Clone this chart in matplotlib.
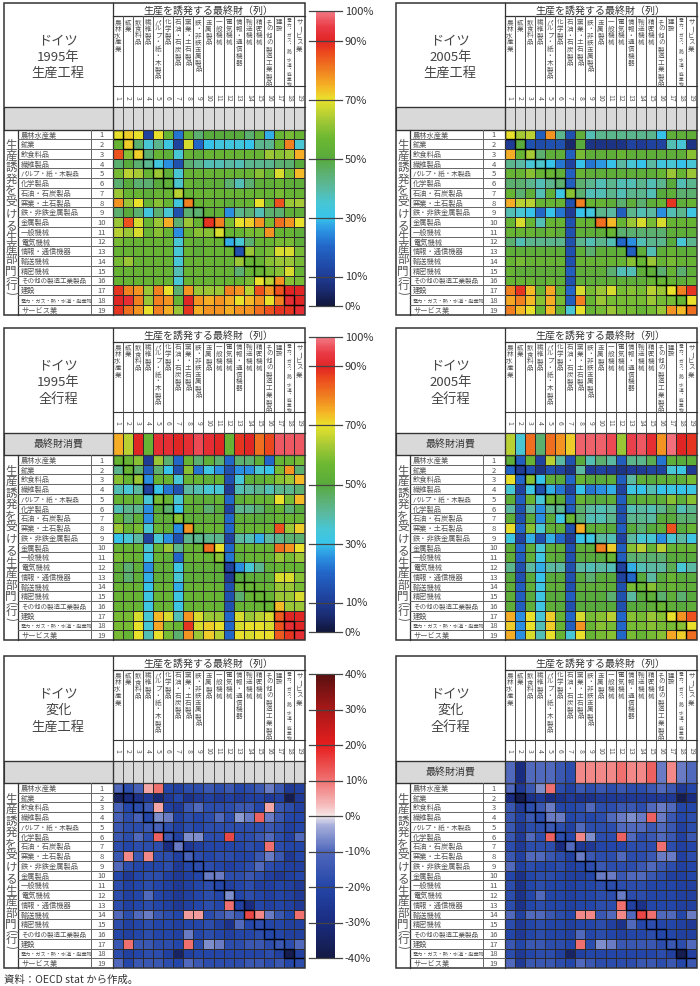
import numpy as np
import matplotlib.pyplot as plt
from matplotlib.colors import LinearSegmentedColormap, ListedColormap, Normalize
from matplotlib.cm import ScalarMappable
from matplotlib.patches import Rectangle

plt.rcParams['font.family'] = ['Noto Sans CJK JP', 'DejaVu Sans']

# ---- labels ----
sectors = ["農林水産業", "鉱業", "飲食料品", "繊維製品", "パルプ・紙・木製品", "化学製品",
           "石油・石炭製品", "窯業・土石製品", "鉄・非鉄金属製品", "金属製品", "一般機械",
           "電気機械", "情報・通信機器", "輸送機械", "精密機械", "その他の製造工業製品",
           "建設", "電力・ガス・熱・水道・廃棄物", "サービス業"]
codes = [str(i) for i in range(1, 20)]
col_header = "生産を誘発する最終財（列）"
row_header = "生産誘発を受ける生産部門"
row_header_tail = "(行)"
final_label = "最終財消費"
titles = [["ドイツ", "1995年", "生産工程"], ["ドイツ", "2005年", "生産工程"],
          ["ドイツ", "1995年", "全行程"], ["ドイツ", "2005年", "全行程"],
          ["ドイツ", "変化", "生産工程"], ["ドイツ", "変化", "全行程"]]
level_ticks = [0, 10, 30, 50, 70, 90, 100]
change_ticks = [-40, -30, -20, -10, 0, 10, 20, 30, 40]
source = "資料：OECD stat から作成。"

# ---- data (%) ----
p95_prod = [
    [70, 72, 70, 12, 70, 55, 22, 55, 45, 50, 50, 50, 50, 45, 52, 28, 55, 58, 55],
    [55, 72, 45, 35, 42, 32, 12, 68, 20, 30, 33, 33, 33, 30, 42, 42, 55, 80, 35],
    [85, 60, 72, 45, 55, 52, 35, 55, 52, 55, 55, 55, 55, 55, 55, 62, 60, 62, 75],
    [45, 50, 45, 42, 33, 25, 15, 45, 42, 38, 38, 40, 38, 42, 42, 42, 45, 45, 50],
    [58, 65, 63, 55, 62, 52, 35, 55, 55, 55, 55, 55, 55, 55, 60, 55, 68, 58, 74],
    [45, 50, 45, 45, 50, 52, 36, 55, 52, 52, 52, 45, 38, 45, 52, 52, 55, 52, 52],
    [62, 55, 55, 52, 55, 55, 65, 55, 55, 55, 55, 55, 55, 55, 55, 55, 58, 55, 55],
    [78, 62, 70, 55, 60, 55, 33, 80, 55, 55, 55, 52, 55, 55, 70, 55, 85, 62, 63],
    [45, 50, 45, 33, 45, 35, 15, 45, 45, 52, 52, 25, 42, 45, 38, 45, 45, 52, 52],
    [62, 85, 68, 55, 62, 75, 45, 62, 55, 88, 80, 58, 70, 72, 78, 58, 82, 78, 70],
    [65, 62, 68, 55, 60, 55, 25, 55, 60, 60, 68, 55, 55, 58, 58, 78, 55, 55, 52],
    [58, 55, 55, 55, 55, 55, 35, 55, 52, 55, 55, 28, 35, 45, 55, 55, 58, 58, 52],
    [55, 55, 55, 55, 55, 55, 35, 55, 52, 55, 55, 55, 15, 62, 55, 58, 68, 68, 58],
    [58, 62, 55, 55, 55, 55, 35, 55, 55, 55, 55, 55, 62, 55, 55, 60, 62, 62, 58],
    [55, 55, 55, 55, 55, 55, 38, 55, 55, 55, 55, 55, 45, 55, 55, 58, 60, 68, 55],
    [55, 55, 55, 55, 55, 55, 35, 55, 55, 55, 55, 55, 55, 58, 70, 65, 78, 60, 58],
    [88, 80, 78, 62, 80, 70, 45, 78, 62, 62, 62, 80, 78, 65, 85, 78, 85, 90, 90],
    [90, 92, 80, 62, 80, 78, 55, 90, 78, 75, 78, 75, 70, 74, 78, 70, 80, 92, 90],
    [88, 82, 78, 70, 80, 75, 62, 88, 75, 78, 78, 75, 78, 78, 82, 85, 88, 88, 92],
]
p05_prod = [
    [70, 63, 65, 18, 78, 42, 15, 52, 38, 42, 42, 42, 42, 42, 42, 30, 52, 52, 52],
    [10, 50, 15, 14, 15, 15, 5, 50, 8, 8, 8, 8, 12, 10, 12, 12, 38, 35, 8],
    [75, 55, 63, 45, 52, 52, 18, 58, 52, 52, 52, 55, 52, 52, 52, 52, 52, 52, 60],
    [42, 40, 35, 36, 30, 22, 12, 30, 22, 26, 30, 40, 35, 30, 40, 33, 35, 30, 35],
    [55, 55, 60, 55, 55, 52, 18, 55, 52, 52, 52, 52, 52, 52, 52, 55, 62, 55, 62],
    [45, 45, 42, 38, 42, 45, 18, 45, 42, 38, 42, 38, 38, 42, 38, 42, 50, 38, 42],
    [55, 45, 52, 38, 52, 32, 60, 45, 38, 38, 42, 38, 42, 42, 38, 50, 52, 45, 45],
    [75, 65, 65, 55, 55, 55, 15, 80, 55, 55, 52, 45, 52, 45, 52, 55, 88, 52, 55],
    [38, 35, 30, 20, 30, 22, 10, 30, 33, 42, 40, 18, 42, 38, 40, 25, 38, 42, 32],
    [55, 68, 55, 38, 55, 55, 15, 55, 55, 82, 74, 55, 62, 68, 58, 68, 55, 55, 55],
    [55, 55, 55, 52, 55, 52, 15, 52, 52, 52, 55, 45, 45, 45, 45, 45, 52, 52, 52],
    [45, 38, 42, 42, 42, 42, 15, 42, 38, 42, 38, 20, 25, 38, 42, 42, 50, 35, 42],
    [52, 52, 52, 52, 52, 52, 15, 52, 45, 52, 52, 52, 18, 52, 38, 52, 55, 52, 52],
    [55, 58, 55, 55, 55, 55, 15, 55, 55, 55, 55, 55, 60, 55, 62, 55, 58, 55, 55],
    [55, 52, 52, 52, 52, 52, 18, 52, 52, 52, 45, 38, 38, 52, 52, 45, 55, 45, 52],
    [55, 55, 55, 52, 55, 52, 15, 52, 52, 52, 52, 52, 52, 52, 55, 55, 55, 52, 55],
    [80, 88, 74, 55, 76, 55, 20, 68, 58, 62, 68, 58, 60, 58, 65, 62, 70, 80, 88],
    [76, 80, 74, 60, 75, 58, 18, 80, 55, 62, 58, 58, 58, 58, 62, 58, 58, 55, 70],
    [80, 74, 70, 55, 74, 55, 35, 70, 55, 58, 62, 58, 58, 55, 58, 62, 78, 74, 82],
]
fin95 = [75, 65, 90, 55, 92, 92, 90, 92, 96, 92, 90, 55, 88, 90, 82, 86, 97, 97, 97]
p95_all = [
    [55, 55, 60, 10, 62, 45, 20, 55, 45, 52, 45, 20, 45, 45, 52, 20, 55, 55, 58],
    [42, 55, 45, 18, 45, 30, 15, 60, 22, 32, 25, 15, 25, 25, 35, 30, 58, 78, 45],
    [60, 55, 62, 25, 55, 55, 35, 55, 55, 52, 55, 15, 35, 52, 52, 55, 60, 62, 74],
    [38, 35, 40, 12, 30, 22, 15, 40, 38, 35, 35, 10, 38, 40, 42, 38, 42, 42, 45],
    [55, 55, 55, 35, 58, 55, 35, 55, 52, 52, 55, 20, 52, 55, 55, 55, 70, 58, 74],
    [38, 42, 42, 25, 50, 45, 30, 52, 52, 45, 50, 12, 42, 42, 45, 50, 55, 45, 50],
    [55, 45, 52, 25, 52, 52, 60, 52, 52, 52, 52, 20, 52, 52, 50, 52, 55, 55, 55],
    [62, 55, 58, 35, 55, 52, 25, 78, 55, 55, 55, 20, 55, 55, 55, 55, 85, 62, 72],
    [30, 35, 40, 12, 35, 25, 15, 42, 42, 42, 42, 12, 40, 38, 28, 40, 42, 45, 45],
    [55, 55, 55, 35, 55, 62, 42, 55, 55, 82, 70, 20, 55, 55, 55, 55, 82, 78, 70],
    [58, 55, 55, 32, 55, 52, 20, 55, 55, 55, 60, 22, 52, 55, 55, 55, 62, 58, 62],
    [52, 45, 52, 25, 52, 52, 32, 52, 52, 52, 52, 12, 25, 35, 42, 52, 55, 55, 55],
    [52, 45, 52, 28, 52, 52, 35, 52, 52, 52, 52, 10, 50, 52, 52, 52, 68, 68, 60],
    [55, 55, 55, 30, 55, 55, 28, 55, 55, 55, 55, 15, 55, 55, 55, 55, 62, 62, 58],
    [55, 55, 55, 32, 55, 55, 32, 55, 55, 55, 55, 15, 45, 55, 55, 55, 62, 62, 68],
    [55, 55, 55, 32, 55, 55, 32, 55, 55, 55, 55, 15, 55, 55, 55, 55, 74, 62, 62],
    [58, 58, 68, 35, 74, 68, 38, 78, 68, 62, 62, 20, 68, 62, 65, 68, 84, 90, 90],
    [58, 58, 70, 35, 76, 58, 55, 88, 68, 72, 70, 20, 68, 70, 70, 68, 85, 92, 90],
    [58, 55, 70, 38, 70, 58, 45, 78, 62, 72, 65, 20, 70, 68, 70, 70, 84, 88, 92],
]
fin05 = [65, 35, 82, 45, 82, 78, 72, 98, 98, 98, 96, 62, 95, 97, 92, 78, 99, 90, 88]
p05_all = [
    [52, 18, 55, 12, 65, 40, 15, 50, 38, 45, 40, 18, 42, 42, 48, 22, 52, 50, 52],
    [20, 10, 15, 8, 15, 12, 8, 40, 10, 12, 10, 8, 10, 10, 12, 12, 35, 32, 10],
    [70, 20, 60, 30, 52, 50, 20, 55, 50, 50, 52, 18, 40, 52, 50, 52, 52, 52, 58],
    [35, 12, 32, 15, 28, 22, 12, 30, 22, 25, 28, 12, 32, 30, 38, 30, 32, 30, 32],
    [52, 18, 55, 35, 55, 50, 18, 55, 50, 50, 52, 18, 50, 52, 52, 52, 60, 52, 60],
    [40, 15, 40, 25, 42, 42, 18, 45, 40, 38, 40, 15, 38, 40, 38, 42, 48, 38, 42],
    [52, 15, 50, 25, 50, 32, 55, 45, 38, 38, 42, 15, 42, 42, 40, 50, 50, 45, 45],
    [70, 20, 60, 35, 52, 52, 15, 75, 52, 52, 50, 18, 50, 45, 50, 52, 85, 50, 55],
    [32, 12, 28, 15, 28, 20, 10, 30, 32, 40, 38, 12, 40, 35, 35, 25, 35, 40, 32],
    [52, 20, 52, 35, 52, 52, 15, 52, 52, 80, 72, 18, 60, 65, 55, 65, 55, 55, 55],
    [52, 18, 52, 32, 52, 50, 15, 50, 50, 50, 55, 18, 45, 45, 45, 45, 50, 50, 50],
    [42, 15, 40, 28, 40, 40, 15, 40, 38, 40, 38, 12, 28, 38, 40, 40, 48, 35, 40],
    [50, 15, 50, 30, 50, 50, 15, 50, 45, 50, 50, 12, 20, 50, 40, 50, 55, 50, 50],
    [52, 18, 52, 32, 52, 52, 15, 52, 52, 52, 52, 15, 58, 55, 60, 52, 55, 52, 52],
    [52, 18, 50, 32, 50, 50, 18, 50, 50, 50, 45, 15, 40, 50, 52, 45, 52, 45, 50],
    [52, 18, 52, 32, 52, 50, 15, 50, 50, 50, 50, 15, 50, 50, 52, 55, 52, 50, 52],
    [75, 25, 70, 35, 72, 55, 20, 68, 58, 60, 65, 20, 60, 58, 62, 60, 70, 78, 85],
    [72, 25, 70, 38, 72, 55, 18, 78, 55, 60, 58, 20, 58, 58, 60, 58, 58, 60, 70],
    [75, 25, 68, 38, 70, 55, 35, 70, 55, 58, 60, 20, 58, 55, 58, 60, 76, 72, 82],
]
chg_prod = [
    [-10, -18, -12, 5, 10, -20, -22, -18, -18, -15, -18, -15, -20, -18, -15, -8, -15, -25, -22],
    [-35, -30, -28, -25, -32, -25, -20, -28, -25, -22, -25, -22, -25, -22, -22, -25, -22, -38, -25],
    [-12, -20, -18, -15, 5, -22, -25, -15, -10, -18, -18, -18, -15, -15, -20, 5, -15, -18, -22],
    [-12, -18, -12, -20, -6, -8, -22, -18, -20, -18, -10, -18, -5, -8, 12, -8, -15, -20, -20],
    [-15, -18, -18, -15, -12, -18, -22, -18, -20, -18, -18, -18, -18, -18, -18, -15, -18, -22, -20],
    [-15, -18, -10, -18, 12, -15, -22, -6, -6, -18, -18, 15, -18, -18, -15, -10, -18, -22, -10],
    [-18, -20, -18, -18, -18, -30, -8, -25, -22, -20, -20, -20, -20, -18, -20, 10, -18, -20, -20],
    [-15, 8, -15, 8, -18, -18, -22, -12, -18, -20, -18, -18, -20, -20, -15, -8, -15, -25, -20],
    [-10, -18, -20, -20, -20, -18, -25, -20, -18, -18, -20, -22, -20, -18, -10, -18, -20, -22, -22],
    [-20, -25, -20, -18, -18, -22, -25, -22, -20, -8, -8, -18, -18, -15, -18, -22, -25, -22, -20],
    [-18, -22, -20, -18, -20, -22, -25, -22, -20, -18, -20, -22, -20, -18, -22, -22, -20, -22, -25],
    [-18, -22, -20, -10, -20, -22, -25, -22, -20, -18, -20, -6, -20, -18, -20, -22, -20, -22, -25],
    [-18, -22, -20, -18, -20, -22, -25, -22, -20, -18, -20, 10, -22, -30, -20, -22, -20, -22, -25],
    [-10, -18, -10, -8, -15, -18, -20, 6, 6, -18, -15, -10, -15, 15, 8, -8, -15, -20, 10],
    [-18, -22, -20, -18, -20, -20, -22, -20, -20, -18, -22, -28, -10, -20, -18, -20, -20, -22, -22],
    [-20, -22, -20, -18, -20, -20, -22, -8, -20, -18, -20, -22, -20, -20, -18, -20, -20, -22, -22],
    [-15, 10, -15, -15, -18, -18, -20, 10, -18, -6, -8, -18, -18, -15, -15, -18, -15, -18, -10],
    [-18, -22, -20, -18, -18, -22, -35, -22, -20, -20, -20, -20, -20, -20, -20, -18, -22, -38, -22],
    [-10, -20, -15, -15, -15, -18, -20, -10, -15, -18, -18, -18, -18, -15, -15, -18, -15, -20, -18],
]
fin_chg = [-10, -30, -10, -10, -10, -15, -18, 8, 8, 8, 8, 10, 8, 8, 12, -8, 8, -8, -10]
chg_all = [
    [-10, -25, -15, -6, 10, -18, -22, -15, -18, -15, -18, -15, -18, -18, -15, -10, -15, -25, -20],
    [-30, -38, -28, -25, -30, -28, -25, -28, -28, -25, -25, -25, -25, -25, -25, -25, -25, -38, -30],
    [-15, -25, -18, -15, -8, -20, -20, -18, -10, -18, -18, -15, -15, -18, -10, -8, -10, -20, -20],
    [-15, -22, -15, -18, -8, -8, -20, -18, -20, -18, -10, -8, -6, -8, 12, -8, -15, -20, -18],
    [-15, -25, -18, -18, -15, -18, -22, -10, -18, -18, -18, -10, -10, -10, -15, -10, -15, -22, -18],
    [-15, -25, -10, -18, 12, -18, -20, 8, -6, -18, -18, 12, -10, -18, -15, -10, -15, -22, -15],
    [-18, -25, -18, -18, -18, -30, -10, -25, -25, -20, -20, -20, -18, -18, -18, 10, -18, -22, -20],
    [-15, -22, -10, -10, -15, -18, -22, -8, -15, -18, -18, -10, -18, -18, -15, -8, -8, -22, -18],
    [-10, -22, -18, -20, -20, -18, -22, -20, -18, -15, -18, -18, -18, -15, -10, -15, -18, -22, -20],
    [-20, -28, -20, -18, -18, -20, -22, -22, -20, -8, -8, -15, -10, -10, -15, -18, -22, -22, -20],
    [-18, -28, -20, -18, -20, -20, -22, -20, -20, -18, -18, -18, -18, -18, -20, -20, -20, -22, -22],
    [-18, -28, -20, -10, -20, -20, -22, -20, -20, -18, -18, -8, -18, -18, -20, -20, -20, -22, -22],
    [-18, -28, -20, -18, -20, -20, -22, -20, -20, -18, -18, 10, -22, -28, -20, -20, -20, -22, -22],
    [-10, -22, -10, -10, -15, -18, -20, 8, 8, -15, -10, 8, -10, 15, 10, -10, -10, -20, -8],
    [-18, -25, -20, -18, -20, -20, -22, -20, -20, -18, -22, -28, -10, -20, -18, -20, -20, -22, -25],
    [-20, -25, -20, -18, -20, -20, -22, -10, -20, -18, -20, -22, -20, -20, -18, -20, -20, -22, -22],
    [-15, -20, -15, -15, -18, -18, -20, 10, -18, -6, -8, -15, -15, -15, -15, -18, -15, -18, -10],
    [-18, -25, -20, -18, -18, -22, -35, -22, -20, -20, -20, -20, -20, -20, -20, -18, -22, -38, -22],
    [-10, -25, -15, -15, -15, -18, -20, -10, -15, -18, -18, -18, -18, -15, -15, -18, -15, -20, -15],
]

# ---- colour scales ----
level_cmap = LinearSegmentedColormap.from_list("level", [
    (0.00, '#10163a'), (0.05, '#1a2a6e'), (0.10, '#1f3c96'), (0.20, '#2266c8'),
    (0.25, '#2a8ee0'), (0.30, '#38c4ea'), (0.35, '#48c6d4'), (0.40, '#5ab9a0'),
    (0.45, '#5cb070'), (0.50, '#58aa3c'), (0.57, '#6db832'), (0.63, '#a3c835'),
    (0.70, '#e8e22c'), (0.75, '#f5b025'), (0.80, '#f08020'), (0.86, '#ec4a1e'),
    (0.90, '#e02424'), (0.95, '#ea3c48'), (1.00, '#f27a84')])
change_cmap = LinearSegmentedColormap.from_list("change", [
    (0.0, '#141a45'), (0.125, '#1a2c80'), (0.25, '#2446a8'), (0.375, '#5068bc'),
    (0.47, '#aab2dc'), (0.5, '#f4eaea'), (0.53, '#f6c4c4'), (0.625, '#f07272'),
    (0.75, '#e61e1e'), (0.875, '#a81818'), (1.0, '#5a1010')])

W, H = 700, 987
fig = plt.figure(figsize=(7, 9.87), dpi=100)
ov = fig.add_axes([0, 0, 1, 1])
ov.set_xlim(0, W)
ov.set_ylim(H, 0)
ov.axis('off')
ov.set_zorder(5)


def fax(x, y, w, h):
    return fig.add_axes([x / W, 1 - (y + h) / H, w / W, h / H])


EDGE = '#333333'
GRAY = '#d9d9d9'
TXT = '#555555'


def vtext(x, y_top, s, step, fs):
    # vertical (top-to-bottom) Japanese text, one glyph per slot
    for k, ch in enumerate(s):
        rot = 270 if ch in "ー()" else 0
        ov.text(x, y_top + step * (k + 0.5), ch, ha='center', va='center',
                rotation=rot, fontsize=fs, color=TXT)


def draw_panel(x0, y0, title, mat, final, cmap, vmin, vmax):
    x_name, x_num, x_heat = x0 + 14, x0 + 87, x0 + 108.5
    x_end = x_heat + 192
    y_lab, y_num, y_gray, y_rows, y_end = y0 + 13.5, y0 + 83.5, y0 + 104.5, y0 + 127, y0 + 312
    cw = 192 / 19
    rh = (y_end - y_rows) / 19

    # heat map cells
    hax = fax(x_heat, y_rows, 192, y_end - y_rows)
    hax.pcolormesh(np.array(mat), cmap=cmap, vmin=vmin, vmax=vmax,
                   edgecolors='#2a2a2a', linewidth=0.6)
    hax.set_xlim(0, 19)
    hax.set_ylim(19, 0)
    hax.axis('off')
    for i in range(19):
        hax.add_patch(Rectangle((i, i), 1, 1, fill=False, ec='black', lw=1.0))

    # final consumption row (or empty gray row)
    fax_ = fax(x_heat, y_gray, 192, y_rows - y_gray)
    if final is None:
        fax_.pcolormesh(np.zeros((1, 19)), cmap=ListedColormap([GRAY]),
                        edgecolors='#555555', linewidth=0.6)
    else:
        fax_.pcolormesh(np.array([final]), cmap=cmap, vmin=vmin, vmax=vmax,
                        edgecolors='#2a2a2a', linewidth=0.6)
    fax_.set_xlim(0, 19)
    fax_.set_ylim(1, 0)
    fax_.axis('off')

    # table frame
    ov.add_patch(Rectangle((x0, y_gray), x_heat - x0, y_rows - y_gray, fc=GRAY, ec=EDGE, lw=0.8))
    ov.add_patch(Rectangle((x0, y0), x_end - x0, y_end - y0, fill=False, ec=EDGE, lw=1.1))
    ov.plot([x_heat, x_heat], [y0, y_end], color=EDGE, lw=0.9)
    ov.plot([x_heat, x_end], [y_lab, y_lab], color=EDGE, lw=0.9)
    ov.plot([x_heat, x_end], [y_num, y_num], color=EDGE, lw=0.8)
    ov.plot([x0, x_end], [y_gray, y_gray], color=EDGE, lw=0.9)
    ov.plot([x0, x_end], [y_rows, y_rows], color=EDGE, lw=0.9)
    for k in range(1, 19):
        ov.plot([x_heat + k * cw] * 2, [y_lab, y_gray], color='#555555', lw=0.7)
    ov.plot([x_name, x_name], [y_rows, y_end], color=EDGE, lw=0.9)
    ov.plot([x_num, x_num], [y_rows, y_end], color='#666666', lw=0.7)
    for k in range(1, 19):
        ov.plot([x_name, x_heat], [y_rows + k * rh] * 2, color='#666666', lw=0.7)

    # texts
    ov.text(x_heat + 96, y0 + 7, col_header, ha='center', va='center',
            fontsize=7.2, color='#333333')
    for j, name in enumerate(sectors):
        cx = x_heat + (j + 0.5) * cw
        if len(name) > 11:
            vtext(cx, y_lab + 1.5, name, 4.9, 3.4)
        else:
            vtext(cx, y_lab + 1.5, name, 6.8, 4.7)
        ov.text(cx, y_num + 10.5, codes[j], ha='center', va='center', rotation=270,
                fontsize=5, color=TXT)
    for i, name in enumerate(sectors):
        cy = y_rows + (i + 0.5) * rh
        if len(name) > 11:
            fs = 3.7
        elif len(name) > 8:
            fs = 4.7
        else:
            fs = 5.2
        ov.text(x_name + 3, cy, name, ha='left', va='center', fontsize=fs, color=TXT)
        ov.text(x_num + 11, cy, codes[i], ha='center', va='center', fontsize=5.5,
                color=TXT)
    vtext(x0 + 7, y0 + 135.5, row_header, 11.5, 8.3)
    vtext(x0 + 7, y0 + 271, row_header_tail, 7.5, 8.3)
    for k, line in enumerate(title):
        ov.text((x0 + x_heat) / 2, y0 + 37 + 16.5 * k, line, ha='center', va='center',
                fontsize=9.5, color='#444444')
    if final is not None:
        ov.text((x0 + x_heat) / 2, (y_gray + y_rows) / 2, final_label, ha='center',
                va='center', fontsize=7.2, color='#333333')


def draw_colorbar(y_top, y_bot, cmap, vmin, vmax, ticks):
    cax = fax(316, y_top, 19, y_bot - y_top)
    cb = fig.colorbar(ScalarMappable(Normalize(vmin, vmax), cmap), cax=cax)
    cb.outline.set_visible(False)
    cb.set_ticks([])
    for v in ticks:
        cax.axhline(v, xmin=-0.37, xmax=1.37, clip_on=False, color='#444444', lw=0.9)
        cax.text(1.52, v, f"{v}%", transform=cax.get_yaxis_transform(),
                 ha='left', va='center', fontsize=8, color='#333333')


tops = [3.5, 329, 657]
draw_panel(4, tops[0], titles[0], p95_prod, None, level_cmap, 0, 100)
draw_panel(396, tops[0], titles[1], p05_prod, None, level_cmap, 0, 100)
draw_panel(4, tops[1], titles[2], p95_all, fin95, level_cmap, 0, 100)
draw_panel(396, tops[1], titles[3], p05_all, fin05, level_cmap, 0, 100)
draw_panel(4, tops[2], titles[4], chg_prod, None, change_cmap, -40, 40)
draw_panel(396, tops[2], titles[5], chg_all, fin_chg, change_cmap, -40, 40)

draw_colorbar(12, 307, level_cmap, 0, 100, level_ticks)
draw_colorbar(338, 633, level_cmap, 0, 100, level_ticks)
draw_colorbar(675, 959, change_cmap, -40, 40, change_ticks)

ov.text(4, 980, source, ha='left', va='center', fontsize=7.5, color='#333333')

fig.savefig("out.png", dpi=100)
